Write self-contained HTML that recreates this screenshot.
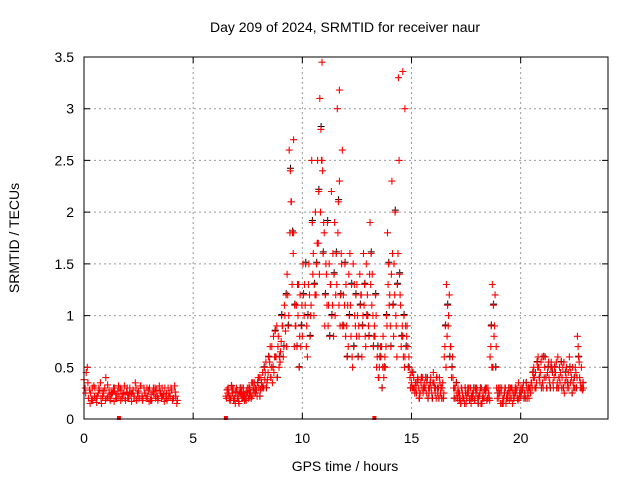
<!DOCTYPE html>
<html><head><meta charset="utf-8"><style>
body{margin:0;background:#fff;width:640px;height:480px;overflow:hidden}
svg text{font-family:"Liberation Sans",sans-serif;font-size:14px;fill:#000}
</style></head><body>
<svg id="chart" width="640" height="480" xmlns="http://www.w3.org/2000/svg">
<text x="345" y="32" text-anchor="middle">Day 209 of 2024, SRMTID for receiver naur</text>
<text x="345" y="471" text-anchor="middle">GPS time / hours</text>
<text transform="translate(19,238) rotate(-90)" text-anchor="middle">SRMTID / TECUs</text>
<g id="grid"></g><g id="ticks"></g><g id="marksB"></g><g id="marks"></g>
<rect x="84" y="57" width="524" height="362" fill="none" stroke="#000" stroke-width="1"/>
</svg>
<script>
const xTicks=[0,5,10,15,20];
const yTicks=[0,0.5,1,1.5,2,2.5,3,3.5];
const yTickLabels=["0","0.5","1","1.5","2","2.5","3","3.5"];
const earlyStart=0, lateStart=6.5, step=0.1;
const earlyA=[0.38,0.45,0.2,0.25,0.18,0.3,0.22,0.28,0.15,0.25,0.4,0.22,0.18,0.25,0.3,0.2,0.22,0.28,0.25,0.18,0.2,0.3,0.25,0.22,0.18,0.27,0.32,0.2,0.25,0.22,0.3,0.18,0.24,0.28,0.2,0.25,0.22,0.3,0.18,0.25,0.28,0.2,0.22];
const earlyB=[0.3,0.5,0.28,0.18,0.32,0.2,0.25,0.35,0.22,0.3,0.2,0.28,0.24,0.3,0.2,0.27,0.3,0.2,0.32,0.26,0.2,0.24,0.28,0.35,0.25,0.2,0.22,0.3,0.2,0.28,0.18,0.26,0.3,0.22,0.32,0.2,0.24,0.2,0.3,0.22,0.18,0.32,0.15];
const earlyC=[0.25,0.35,0.15,0.3,0.22,0.16,0.3,0.2,0.27,0.18,0.33,0.2,0.26,0.17,0.24,0.32,0.18,0.24,0.2,0.3,0.25,0.17,0.22,0.3,0.2,0.32,0.18,0.25,0.3,0.17,0.24,0.3,0.2,0.18,0.27,0.3,0.17,0.25,0.22,0.3,0.2,0.26,0.18];
const lateA=[0.22,0.3,0.18,0.25,0.2,0.28,0.15,0.24,0.3,0.2,
0.25,0.3,0.22,0.35,0.28,0.3,0.4,0.32,0.45,0.38,
0.55,0.7,0.45,0.6,0.8,0.65,0.9,1.0,1.4,2.6,
2.1,1.8,0.9,1.0,1.2,0.8,1.3,0.9,1.5,1.1,
1.6,2.0,2.5,3.1,2.5,1.8,1.4,1.1,1.3,1.6,
1.0,3.0,2.3,1.5,0.9,1.3,0.7,1.1,0.5,1.0,
1.3,0.8,1.2,1.6,0.7,1.0,1.9,1.4,0.9,0.5,
0.4,0.6,0.8,0.5,1.8,1.2,2.3,1.5,0.9,3.3,
1.1,0.8,0.6,0.9,0.5,0.35,0.4,0.3,0.38,0.25,
0.4,0.3,0.35,0.25,0.3,0.45,0.3,0.25,0.35,0.3,
0.6,1.3,1.0,0.7,0.4,0.3,0.2,0.25,0.3,0.2,
0.15,0.25,0.3,0.2,0.18,0.28,0.22,0.3,0.2,0.25,
0.3,0.6,1.3,0.9,0.3,0.2,0.25,0.15,0.3,0.2,
0.25,0.3,0.2,0.28,0.35,0.22,0.3,0.25,0.2,0.3,
0.35,0.5,0.3,0.6,0.45,0.35,0.5,0.3,0.4,0.55,
0.3,0.45,0.6,0.35,0.4,0.25,0.5,0.3,0.45,0.35,
0.5,0.8,0.4,0.3];
const lateB=[0.28,0.2,0.32,0.18,0.26,0.22,0.3,0.2,0.18,0.26,
0.3,0.2,0.28,0.25,0.35,0.22,0.3,0.5,0.3,0.6,
0.4,0.5,0.85,0.4,0.6,1.0,0.7,1.2,0.9,2.4,
1.8,1.1,0.7,0.5,0.9,1.2,1.5,1.0,0.8,1.9,
1.3,1.5,2.2,2.8,1.6,1.2,1.9,0.8,1.0,1.4,
1.6,2.1,1.2,0.9,1.5,0.6,1.0,1.3,0.7,1.2,
0.6,1.1,0.9,1.3,1.0,0.8,1.6,0.7,1.2,0.7,
0.6,0.3,0.5,1.0,1.5,0.7,1.1,2.0,1.3,1.4,
0.8,1.0,0.7,0.5,0.3,0.45,0.25,0.35,0.2,0.4,
0.3,0.4,0.2,0.35,0.2,0.3,0.4,0.2,0.3,0.2,
0.9,1.1,0.6,0.5,0.2,0.35,0.25,0.15,0.2,0.3,
0.25,0.18,0.22,0.3,0.25,0.15,0.3,0.2,0.28,0.18,
0.2,0.9,1.1,0.5,0.25,0.3,0.15,0.25,0.2,0.3,
0.2,0.25,0.3,0.2,0.25,0.3,0.2,0.35,0.3,0.25,
0.45,0.3,0.55,0.4,0.3,0.6,0.4,0.5,0.3,0.45,
0.5,0.3,0.4,0.55,0.3,0.45,0.35,0.5,0.25,0.4,
0.3,0.6,0.3,0.35];
const lateC=[0.2,0.25,0.22,0.3,0.15,0.2,0.25,0.3,0.22,0.18,
0.2,0.25,0.35,0.3,0.22,0.4,0.35,0.3,0.55,0.45,
0.7,0.35,0.6,0.9,0.5,0.75,0.6,0.85,1.2,1.8,
1.3,0.7,1.1,1.3,0.7,1.5,1.1,0.6,1.2,2.5,
1.0,1.2,1.7,2.0,2.4,0.9,1.1,1.5,2.2,0.8,
1.2,1.8,0.9,2.6,1.1,0.9,1.4,0.8,1.5,0.9,
1.0,1.4,0.6,1.1,1.5,0.9,1.3,1.0,0.8,0.6,
0.5,0.7,0.4,0.7,1.3,0.9,1.6,1.2,0.6,2.5,
0.7,0.6,0.9,0.7,0.4,0.3,0.3,0.25,0.3,0.35,
0.25,0.3,0.4,0.3,0.25,0.35,0.2,0.3,0.25,0.35,
0.7,0.8,1.2,0.4,0.3,0.2,0.3,0.2,0.25,0.15,
0.2,0.3,0.15,0.25,0.3,0.2,0.25,0.15,0.2,0.3,
0.25,0.7,0.5,1.2,0.2,0.25,0.3,0.2,0.15,0.25,
0.3,0.15,0.25,0.3,0.2,0.25,0.35,0.2,0.25,0.3,
0.3,0.4,0.35,0.5,0.55,0.3,0.6,0.45,0.35,0.5,
0.4,0.55,0.3,0.45,0.5,0.35,0.3,0.6,0.4,0.3,
0.45,0.7,0.35,0.28];
const lateD=[0.25,0.18,0.28,0.2,0.3,0.17,0.26,0.2,0.25,0.3,
0.22,0.35,0.25,0.3,0.4,0.28,0.45,0.38,0.35,0.6,
0.5,0.8,0.6,0.7,0.55,0.9,1.1,0.7,1.0,2.1,
1.6,0.9,1.3,0.8,1.1,1.0,0.7,1.3,1.0,1.4,
1.2,1.7,1.4,2.5,1.9,1.5,0.9,1.3,1.1,1.9,
1.3,1.1,1.6,1.2,0.8,1.1,1.6,0.6,1.3,0.8,
0.9,1.2,1.0,0.8,1.2,1.4,1.1,0.8,1.0,0.4,
0.7,0.5,0.6,0.9,1.1,1.4,0.8,1.0,1.6,1.2,
0.9,0.5,0.8,0.6,0.45,0.3,0.35,0.4,0.25,0.3,
0.35,0.25,0.3,0.4,0.35,0.25,0.3,0.4,0.2,0.25,
0.5,0.9,0.7,0.6,0.3,0.25,0.18,0.3,0.2,0.25,
0.3,0.2,0.25,0.18,0.3,0.22,0.15,0.25,0.3,0.2,
0.18,0.5,0.8,0.7,0.3,0.15,0.2,0.3,0.25,0.18,
0.3,0.2,0.25,0.18,0.3,0.28,0.25,0.3,0.2,0.35,
0.4,0.45,0.5,0.35,0.6,0.4,0.3,0.55,0.5,0.35,
0.45,0.35,0.5,0.3,0.55,0.4,0.45,0.35,0.5,0.3,
0.4,0.55,0.5,0.3];
const spikeTimes=[10.9,11.7,14.6,14.7,10.8,9.6];
const spikeVals=[3.45,3.18,3.36,3.0,3.1,2.7];
const zeroTimes=[1.6,6.5,13.3];

const X0=84,X1=608,Y0=419,Y1=57,XMAX=24,YMAX=3.5;
const sx=t=>X0+(X1-X0)*t/XMAX;
const sy=v=>Y0-(Y0-Y1)*v/YMAX;
const NS="http://www.w3.org/2000/svg";
const grid=document.getElementById('grid'),ticks=document.getElementById('ticks');
function mk(tag,attrs,parent){const e=document.createElementNS(NS,tag);for(const k in attrs)e.setAttribute(k,attrs[k]);parent.appendChild(e);return e;}
xTicks.forEach(t=>{
  const x=sx(t);
  if(t>0){const g=mk('line',{x1:x,x2:x,y1:Y1,y2:Y0,stroke:'#999','stroke-dasharray':'2,3'},grid);
  
  }
  const tk=mk('path',{d:`M${x},${Y0}v-6M${x},${Y1}v6`,stroke:'#000'},ticks);
  
  
  const lb=mk('text',{x:x,y:443,'text-anchor':'middle'},ticks);lb.textContent=t;
  
  
});
yTicks.forEach((v,i)=>{
  const y=sy(v);
  if(v>0&&v<YMAX){const g=mk('line',{x1:X0,x2:X1,y1:y,y2:y,stroke:'#999','stroke-dasharray':'2,3'},grid);
  
  }
  const tk=mk('path',{d:`M${X0},${y}h6M${X1},${y}h-6`,stroke:'#000'},ticks);
  
  
  const lb=mk('text',{x:74,y:y+5,'text-anchor':'end'},ticks);lb.textContent=yTickLabels[i];
  
  
});
function plus(t,v){const x=sx(t),y=sy(v);return `M${(x-3.5).toFixed(1)},${y.toFixed(1)}h7M${x.toFixed(1)},${(y-3.5).toFixed(1)}v7`;}
let dr='',db='';
earlyA.forEach((v,i)=>dr+=plus(earlyStart+i*step,v));
earlyB.forEach((v,i)=>dr+=plus(earlyStart+i*step+0.05,v));
earlyC.forEach((v,i)=>dr+=plus(earlyStart+i*step+0.08,v));
lateA.forEach((v,i)=>dr+=plus(lateStart+i*step,v));
lateB.forEach((v,i)=>{db+=plus(lateStart+i*step+0.06,v*1.01);dr+=plus(lateStart+i*step+0.05,v);});
lateC.forEach((v,i)=>dr+=plus(lateStart+i*step+0.03,v));
lateD.forEach((v,i)=>dr+=plus(lateStart+i*step+0.08,v));
spikeVals.forEach((v,i)=>dr+=plus(spikeTimes[i],v));
const pb=mk('path',{d:db,stroke:'#000','stroke-width':1,fill:'none'},document.getElementById('marksB'));


const pr=mk('path',{d:dr,stroke:'#f00','stroke-width':1.1,fill:'none'},document.getElementById('marks'));


zeroTimes.forEach(t=>{const r=mk('rect',{x:sx(t)-2,y:Y0-3,width:4,height:4,fill:'#f00'},document.getElementById('marks'));

});
</script>
</body></html>
